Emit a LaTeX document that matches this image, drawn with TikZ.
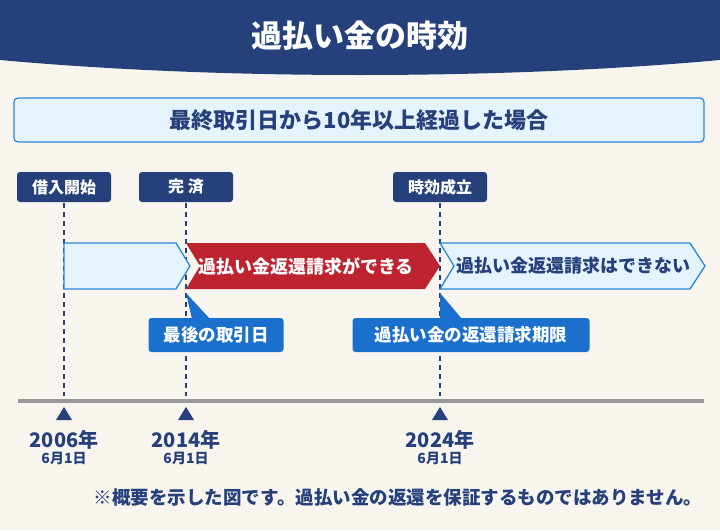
\documentclass[tikz,border=0pt]{standalone}
\usepackage{fontspec}
\setmainfont{Noto Sans CJK JP}
\usetikzlibrary{positioning}
\definecolor{navy}{HTML}{25407A}
\definecolor{cream}{HTML}{F8F5EE}
\definecolor{paleblue}{HTML}{E4F3FC}
\definecolor{midblue}{HTML}{2A86D6}
\definecolor{callblue}{HTML}{1A70CC}
\definecolor{darkred}{HTML}{BE2330}

\begin{document}
\begin{tikzpicture}[x=1pt, y=-1pt, font=\bfseries,
    tag/.style={fill=navy, text=white, rounded corners=3pt, minimum width=94pt, minimum height=30pt, inner sep=0pt, font=\fontsize{16}{16}\selectfont\bfseries},
    callout/.style={fill=callblue, text=white, rounded corners=3pt, minimum height=34pt, inner sep=0pt, font=\fontsize{17.5}{17.5}\selectfont\bfseries},
    guide/.style={navy, line width=1.6pt, dash pattern=on 5pt off 4pt},
    year/.style={text=navy, inner sep=1pt, font=\fontsize{20}{20}\selectfont\bfseries},
    day/.style={text=navy, inner sep=1pt, font=\fontsize{14}{14}\selectfont\bfseries}]
    % Background and banner
    \fill[cream] (0,0) rectangle (720,530);
    \useasboundingbox (0,0) rectangle (720,530);
    \fill[navy] (0,0) -- (720,0) -- (720,60) .. controls (500,80) and (220,80) .. (0,60) -- cycle;
    \node (title) [text=white, font=\fontsize{31}{31}\selectfont\bfseries] at (360,36) {過払い金の時効};

    % Condition box
    \node (cond) [draw=midblue, line width=1.2pt, fill=paleblue, rounded corners=4pt, minimum width=690pt, minimum height=44pt, text=navy, font=\fontsize{22}{22}\selectfont\bfseries] at (359,120) {最終取引日から10年以上経過した場合};

    % Tags
    \node [tag] (start) at (64,187) {借入開始};
    \node [tag] (paid)  at (186,187) {完 済};
    \node [tag] (limit) at (440,187) {時効成立};

    % Timeline
    \draw [line width=3.5pt, black!40] (18,401) -- (704,401);
    \foreach \x/\n in {64/s, 186/p, 440/l} {
        \coordinate (top\n) at (\x,203);
        \coordinate (bot\n) at (\x,396);
        \draw [guide] (top\n) -- (bot\n);
        \fill[navy] (\x-8,420) -- (\x,407) -- (\x+8,420) -- cycle;
    }

    % Arrows
    \draw [midblue, line width=1.3pt, fill=paleblue] (64,243) -- (176,243) -- (190,266) -- (176,289) -- (64,289) -- cycle;
    \fill [darkred] (186,243) -- (425,243) -- (440,266) -- (425,289) -- (186,289) -- (200,266) -- cycle;
    \node (can) [text=white, font=\fontsize{18}{18}\selectfont\bfseries] at (306,266) {過払い金返還請求ができる};
    \draw [midblue, line width=1.3pt, fill=paleblue] (440,243) -- (690,243) -- (705,266) -- (690,289) -- (440,289) -- (454,266) -- cycle;
    \node (cannot) [text=navy, font=\fontsize{18}{18}\selectfont\bfseries] at (573,266) {過払い金返還請求はできない};

    % Callouts
    \node [callout, minimum width=135pt] (last) at (216,335) {最後の取引日};
    \fill[callblue] (192,319) -- (186,293) -- (210,319) -- cycle;
    \node [callout, minimum width=237pt] (deadline) at (471,335) {過払い金の返還請求期限};
    \fill[callblue] (440,319) -- (440,293) -- (462,319) -- cycle;

    % Years
    \foreach \x/\y/\n in {64/2006/a, 186/2014/b, 440/2024/c} {
        \node [year] (y\n) at (\x,440) {\y 年};
        \node [day, below=0pt of y\n] (d\n) {6月1日};
    }

    % Note
    \node (note) [text=navy, font=\fontsize{18.5}{18.5}\selectfont\bfseries] at (398,497) {※概要を示した図です。過払い金の返還を保証するものではありません。};
\end{tikzpicture}
\end{document}
